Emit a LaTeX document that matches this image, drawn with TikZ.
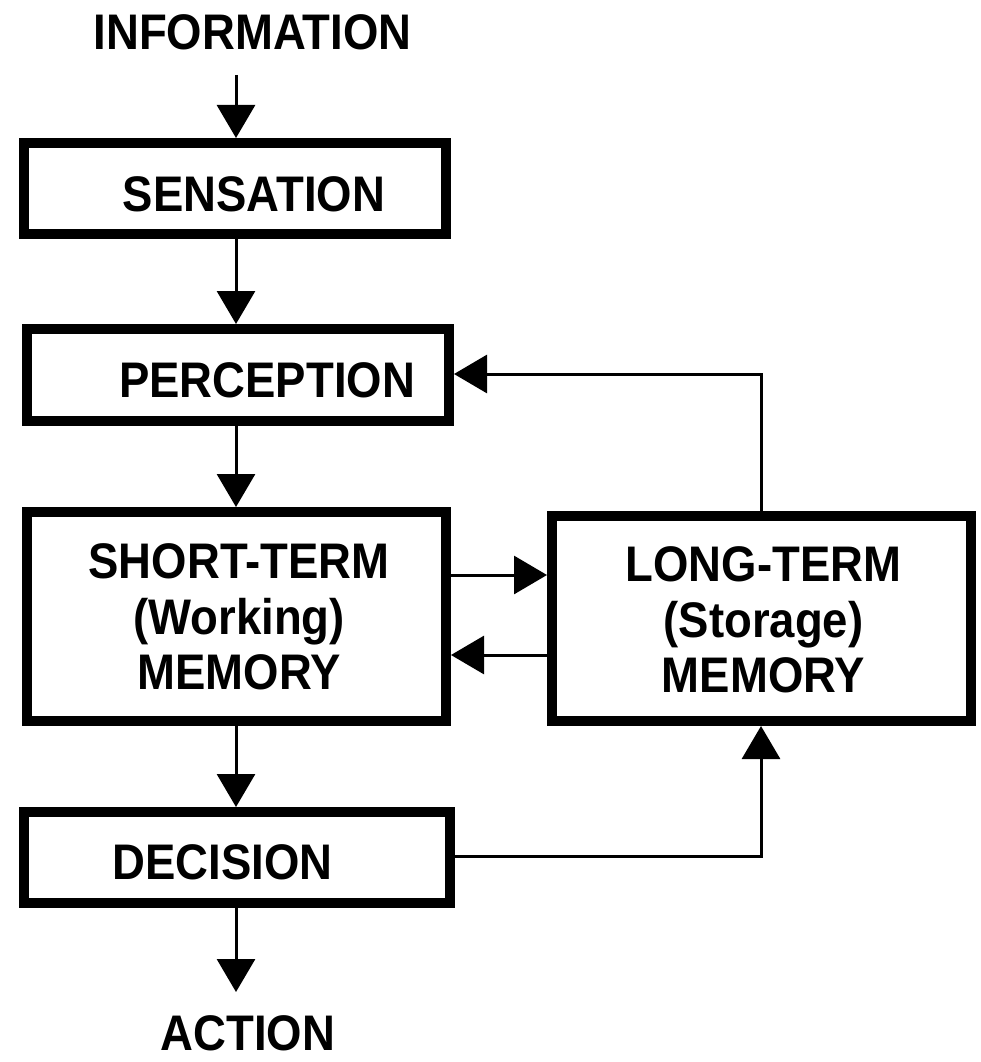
\documentclass[tikz,border=0pt]{standalone}
\usepackage{fontspec}
\newfontfamily\diafont{Liberation Sans}[FakeStretch=0.91]
\usetikzlibrary{arrows.meta}
\begin{document}
\begin{tikzpicture}[x=1pt,y=-1pt,
  box/.style={draw=black, line width=10pt, rectangle, inner sep=0pt, fill=white},
  lbl/.style={font=\diafont\bfseries\fontsize{50}{55.5}\selectfont, inner sep=0pt, align=center},
  arr/.style={line width=3pt, line join=miter, -{Triangle[width=38pt,length=33pt]}}]
\useasboundingbox[fill=white] (0,0) rectangle (980,1062);
% boxes
\node[box, minimum width=422pt, minimum height=91pt]  (sens) at (235,188.5) {};
\node[box, minimum width=422pt, minimum height=92pt]  (perc) at (238,375) {};
\node[box, minimum width=419pt, minimum height=209pt] (stm)  at (236.5,616.5) {};
\node[box, minimum width=426pt, minimum height=91pt]  (dec)  at (237,857.5) {};
\node[box, minimum width=419pt, minimum height=205pt] (ltm)  at (761.5,618.5) {};
% texts
\node[lbl, anchor=base] (info)  at (252.5,50) {INFORMATION};
\node[lbl, anchor=base] (sensT) at (254,211) {SENSATION};
\node[lbl, anchor=base] (percT) at (267,397) {PERCEPTION};
\node[lbl] (stmT) at (239,617) {SHORT-TERM\\(Working)\\MEMORY};
\node[lbl] (ltmT) at (763.5,620) {LONG-TERM\\(Storage)\\MEMORY};
\node[lbl, anchor=base] (decT)  at (222.5,879) {DECISION};
\node[lbl, anchor=base] (act)   at (248,1050) {ACTION};
% coordinates
\coordinate (a0) at (236,75);
\coordinate (a5) at (236,992);
\coordinate (fb) at (761,374);
\coordinate (db) at (761,856);
\coordinate (h1) at (500,575);
\coordinate (h2) at (500,655);
% connectors
\draw[arr] (a0) -- (a0 |- sens.north);
\draw[arr] (sens.south -| a0) -- (perc.north -| a0);
\draw[arr] (perc.south -| a0) -- (stm.north -| a0);
\draw[arr] (stm.south -| a0) -- (dec.north -| a0);
\draw[arr] (dec.south -| a0) -- (a5);
\draw[arr] (h1 -| stm.east) -- (h1 -| ltm.west);
\draw[arr] (h2 -| ltm.west) -- (h2 -| stm.east);
\draw[arr] (fb |- ltm.north) -- (fb) -- (fb -| perc.east);
\draw[arr] (db -| dec.east) -- (db) -- (db |- ltm.south);
\end{tikzpicture}
\end{document}
